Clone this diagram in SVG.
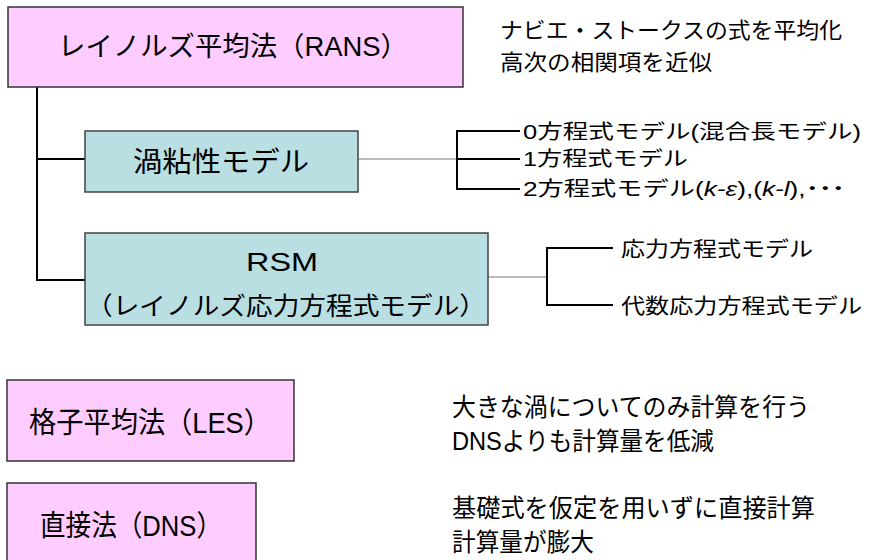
<svg xmlns="http://www.w3.org/2000/svg" width="877" height="560" viewBox="0 0 877 560">
<style>
text{font-family:"Liberation Sans","Noto Sans CJK JP",sans-serif;fill:#000}
.pink{fill:#FFCCFF;stroke:#333;stroke-width:1.5}
.blue{fill:#B9DFE3;stroke:#444;stroke-width:1.5}
.tree{fill:none;stroke:#000;stroke-width:2}
.thin{fill:none;stroke:#777;stroke-width:1.2}
.it{font-style:italic}
</style>
<rect width="877" height="560" fill="#fff"/>
<g id="connectors">
<polyline class="tree" points="37,87 37,281"/>
<line class="tree" x1="36" y1="159" x2="85" y2="159"/>
<line class="tree" x1="36" y1="280" x2="85" y2="280"/>
<line class="thin" x1="358" y1="159" x2="457" y2="159"/>
<polyline class="tree" points="520,131 457,131 457,189 520,189"/>
<line class="tree" x1="457" y1="159" x2="520" y2="159"/>
<line class="thin" x1="488" y1="277" x2="547" y2="277"/>
<polyline class="tree" points="613,248 547,248 547,305 613,305"/>
</g>
<g id="rans">
<rect class="pink" x="8" y="7" width="455" height="80"/>
<text x="58" y="56" font-size="27" textLength="350" lengthAdjust="spacingAndGlyphs">レイノルズ平均法（RANS）</text>
</g>
<g id="rans-note">
<text x="500" y="38" font-size="22" textLength="342" lengthAdjust="spacingAndGlyphs">ナビエ・ストークスの式を平均化</text>
<text x="500" y="70" font-size="22" textLength="212" lengthAdjust="spacingAndGlyphs">高次の相関項を近似</text>
</g>
<g id="eddy">
<rect class="blue" x="85" y="131" width="273" height="61"/>
<text x="133" y="172" font-size="28" textLength="176" lengthAdjust="spacingAndGlyphs">渦粘性モデル</text>
</g>
<g id="eddy-items">
<text x="523" y="139" font-size="20" textLength="338" lengthAdjust="spacingAndGlyphs">0方程式モデル(混合長モデル)</text>
<text x="523" y="166" font-size="20" textLength="165" lengthAdjust="spacingAndGlyphs">1方程式モデル</text>
<text x="523" y="196" font-size="20" textLength="322" lengthAdjust="spacingAndGlyphs">2方程式モデル(<tspan class="it">k-ε</tspan>),(<tspan class="it">k-l</tspan>),<tspan font-weight="bold">･･･</tspan></text>
</g>
<g id="rsm">
<rect class="blue" x="85" y="233" width="403" height="92"/>
<text x="246" y="271" font-size="26" textLength="72" lengthAdjust="spacingAndGlyphs">RSM</text>
<text x="86" y="315" font-size="25" textLength="400" lengthAdjust="spacingAndGlyphs">（レイノルズ応力方程式モデル）</text>
</g>
<g id="rsm-items">
<text x="621" y="256" font-size="21" textLength="192" lengthAdjust="spacingAndGlyphs">応力方程式モデル</text>
<text x="621" y="313" font-size="21" textLength="241" lengthAdjust="spacingAndGlyphs">代数応力方程式モデル</text>
</g>
<g id="les">
<rect class="pink" x="7" y="380" width="287" height="81"/>
<text x="29" y="433" font-size="29" textLength="242" lengthAdjust="spacingAndGlyphs">格子平均法（LES）</text>
</g>
<g id="les-note">
<text x="452" y="416" font-size="25" textLength="358" lengthAdjust="spacingAndGlyphs">大きな渦についてのみ計算を行う</text>
<text x="452" y="450" font-size="25" textLength="262" lengthAdjust="spacingAndGlyphs">DNSよりも計算量を低減</text>
</g>
<g id="dns">
<rect class="pink" x="7" y="483" width="249" height="80"/>
<text x="40" y="536" font-size="29" textLength="182" lengthAdjust="spacingAndGlyphs">直接法（DNS）</text>
</g>
<g id="dns-note">
<text x="452" y="517" font-size="25" textLength="363" lengthAdjust="spacingAndGlyphs">基礎式を仮定を用いずに直接計算</text>
<text x="452" y="551" font-size="25" textLength="142" lengthAdjust="spacingAndGlyphs">計算量が膨大</text>
</g>
</svg>
